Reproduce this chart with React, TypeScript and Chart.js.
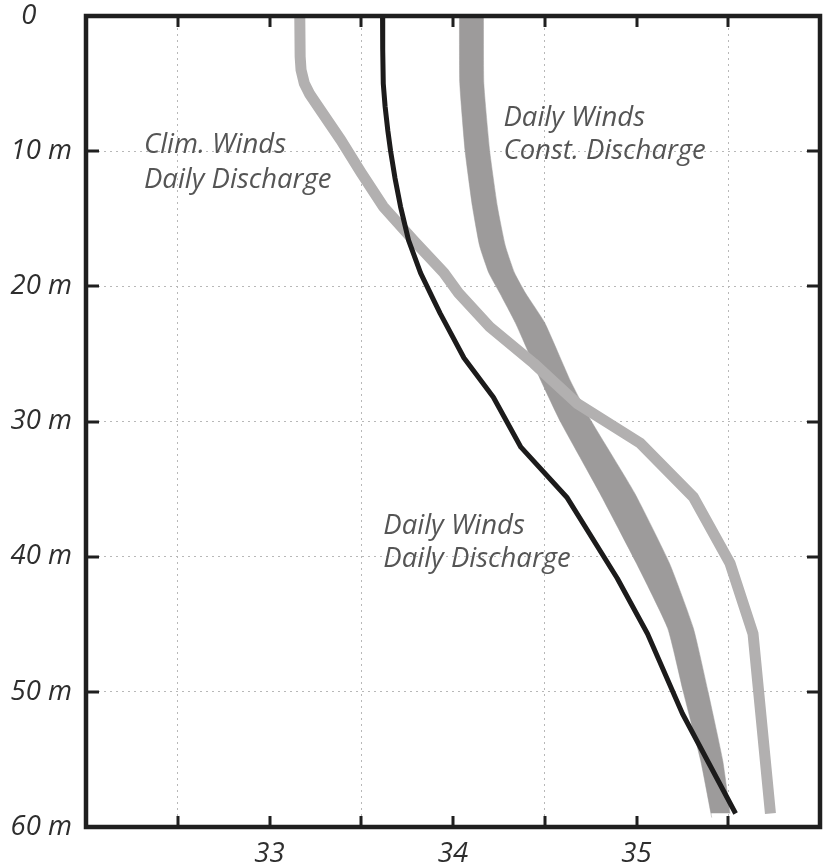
import React, { useEffect, useRef } from 'react';
import { Chart, registerables } from 'chart.js';

Chart.register(...registerables);

// Depth (m) and salinity values
const blackDepth = [0, 2.5, 5, 6.7, 8.5, 10, 12, 14.1, 16.6, 19.0, 21.0, 22.0, 25.3, 28.2, 31.9, 35.6, 41.6, 45.7, 51.6, 59.0];
const blackSal = [33.616, 33.617, 33.62, 33.63, 33.645, 33.66, 33.684, 33.714, 33.758, 33.823, 33.894, 33.93, 34.06, 34.22, 34.37, 34.62, 34.895, 35.06, 35.25, 35.54];

const climDepth = [0, 3.0, 4.0, 5.0, 5.8, 6.7, 9.2, 11.6, 14.1, 16.6, 19.0, 20.5, 23.0, 25.7, 28.7, 31.6, 35.6, 40.5, 45.7, 59.0];
const climSal = [33.165, 33.167, 33.172, 33.19, 33.22, 33.265, 33.39, 33.5, 33.62, 33.785, 33.95, 34.03, 34.2, 34.44, 34.68, 35.02, 35.31, 35.51, 35.635, 35.73];

const bandDepthLeft = [0, 5, 10, 14.1, 17, 19, 20.5, 22.7, 27, 30, 35.3, 40.5, 45.3, 50, 55.1, 59.3];
const bandLeft = [34.035, 34.037, 34.066, 34.106, 34.145, 34.195, 34.255, 34.34, 34.48, 34.585, 34.8, 35.0, 35.17, 35.255, 35.35, 35.41];
const bandDepthRight = [0, 5, 10, 14.1, 17, 19, 20.5, 22.7, 27, 30, 35.3, 40.5, 45.3, 50, 55.1, 59.0];
const bandRight = [34.166, 34.168, 34.2, 34.242, 34.285, 34.335, 34.395, 34.5, 34.64, 34.755, 34.99, 35.18, 35.31, 35.39, 35.47, 35.51];

const noteLines = [
  ['Clim. Winds', 'Daily Discharge'],
  ['Daily Winds', 'Const. Discharge'],
  ['Daily Winds', 'Daily Discharge'],
];
const noteSal = [32.316, 34.275, 33.62];
const noteDepth = [[10.15, 12.74], [8.15, 10.6], [38.3, 40.74]];

const xMin = 32;
const xMax = 36;
const yMin = 0;
const yMax = 60;
const FONT = '"Open Sans", Lato, sans-serif';

const toPts = (d: number[], s: number[]) => d.map((v, i) => ({ x: s[i], y: v }));

export default function App() {
  const ref = useRef<HTMLCanvasElement | null>(null);

  useEffect(() => {
    if (!ref.current) return;

    const framePlugin = {
      id: 'frameTicks',
      afterDatasetsDraw(chart: any) {
        const { ctx, scales } = chart;
        const xs = scales.x;
        const ys = scales.y;
        ctx.save();
        ctx.font = `italic 400 27.5px ${FONT}`;
        ctx.fillStyle = '#555555';
        ctx.textAlign = 'left';
        ctx.textBaseline = 'alphabetic';
        noteLines.forEach((lines, i) => {
          lines.forEach((t, j) => {
            ctx.fillText(t, xs.getPixelForValue(noteSal[i]), ys.getPixelForValue(noteDepth[i][j]));
          });
        });
        ctx.restore();
      },
      afterDraw(chart: any) {
        const { ctx, chartArea: a, scales } = chart;
        const xs = scales.x;
        const ys = scales.y;
        ctx.save();
        ctx.strokeStyle = '#1f1f1f';
        ctx.lineWidth = 3;
        ctx.lineCap = 'butt';
        const tl = 11;
        ctx.beginPath();
        xs.ticks.forEach((t: any) => {
          if (t.value <= xMin || t.value >= xMax) return;
          const px = Math.round(xs.getPixelForValue(t.value));
          ctx.moveTo(px, a.top);
          ctx.lineTo(px, a.top + tl);
          ctx.moveTo(px, a.bottom);
          ctx.lineTo(px, a.bottom - tl);
        });
        ys.ticks.forEach((t: any) => {
          if (t.value <= yMin || t.value >= yMax) return;
          const py = Math.round(ys.getPixelForValue(t.value));
          ctx.moveTo(a.left, py);
          ctx.lineTo(a.left + tl + 2, py);
          ctx.moveTo(a.right, py);
          ctx.lineTo(a.right - tl - 2, py);
        });
        ctx.stroke();
        ctx.lineWidth = 4.5;
        ctx.lineJoin = 'miter';
        ctx.strokeRect(a.left, a.top, a.right - a.left, a.bottom - a.top);
        ctx.restore();
      },
    };

    const chart = new Chart(ref.current, {
      type: 'line',
      data: {
        datasets: [
          {
            label: 'Daily Winds Daily Discharge',
            data: toPts(blackDepth, blackSal),
            borderColor: '#1c1b1b',
            borderWidth: 5,
            pointRadius: 0,
            tension: 0,
            fill: false,
            borderCapStyle: 'butt',
            borderJoinStyle: 'round',
          },
          {
            label: 'Clim. Winds Daily Discharge',
            data: toPts(climDepth, climSal),
            borderColor: '#b2b0b0',
            borderWidth: 11,
            pointRadius: 0,
            tension: 0,
            fill: false,
            borderCapStyle: 'butt',
            borderJoinStyle: 'round',
          },
          {
            label: 'Daily Winds Const. Discharge (left)',
            data: toPts(bandDepthLeft, bandLeft),
            borderColor: '#9d9b9b',
            borderWidth: 0.5,
            pointRadius: 0,
            tension: 0.15,
            fill: false,
          },
          {
            label: 'Daily Winds Const. Discharge (right)',
            data: toPts(bandDepthRight, bandRight),
            borderColor: '#9d9b9b',
            backgroundColor: '#9d9b9b',
            borderWidth: 0.5,
            pointRadius: 0,
            tension: 0.15,
            fill: '-1',
          },
        ],
      },
      options: {
        animation: false,
        responsive: true,
        maintainAspectRatio: false,
        indexAxis: 'y',
        layout: { padding: { top: 16, right: 5, left: 0, bottom: 0 } },
        plugins: {
          legend: { display: false },
          tooltip: { enabled: false },
          filler: { propagate: false },
        },
        scales: {
          x: {
            type: 'linear',
            position: 'bottom',
            min: xMin,
            max: xMax,
            afterFit: (s: any) => {
              s.height = 40;
              s.paddingLeft = 0;
              s.paddingRight = 0;
            },
            ticks: {
              stepSize: 0.5,
              autoSkip: false,
              maxRotation: 0,
              padding: 11,
              color: '#2e2e2e',
              font: { family: FONT, size: 27.5, style: 'italic', weight: '400' },
              callback: (v: any) => {
                const n = Number(v);
                return Number.isInteger(n) && n > xMin && n < xMax ? String(n) : '';
              },
            },
            grid: {
              drawTicks: false,
              lineWidth: 1,
              color: (c: any) => {
                const v = c.tick ? c.tick.value : 0;
                return Math.abs((v % 1) - 0.5) < 1e-6 ? '#b8b8b8' : 'rgba(0,0,0,0)';
              },
            },
            border: { display: false, dash: [2, 4] },
          },
          y: {
            type: 'linear',
            reverse: true,
            min: yMin,
            max: yMax,
            afterFit: (s: any) => {
              s.width = 86;
              s.paddingTop = 0;
              s.paddingBottom = 0;
            },
            ticks: {
              stepSize: 10,
              padding: 14,
              color: '#2e2e2e',
              font: { family: FONT, size: 27.5, style: 'italic', weight: '400' },
              callback: (v: any) => (Number(v) === 0 ? '0     ' : `${v} m`),
            },
            grid: {
              drawTicks: false,
              lineWidth: 1,
              color: (c: any) => {
                const v = c.tick ? c.tick.value : 0;
                return v > yMin && v < yMax ? '#b8b8b8' : 'rgba(0,0,0,0)';
              },
            },
            border: { display: false, dash: [2, 4] },
          },
        },
      } as any,
      plugins: [framePlugin],
    });

    return () => chart.destroy();
  }, []);

  return (
    <div style={{ position: 'absolute', left: 0, top: 0, width: 825, height: 867, background: '#fff' }}>
      <canvas ref={ref} />
    </div>
  );
}
